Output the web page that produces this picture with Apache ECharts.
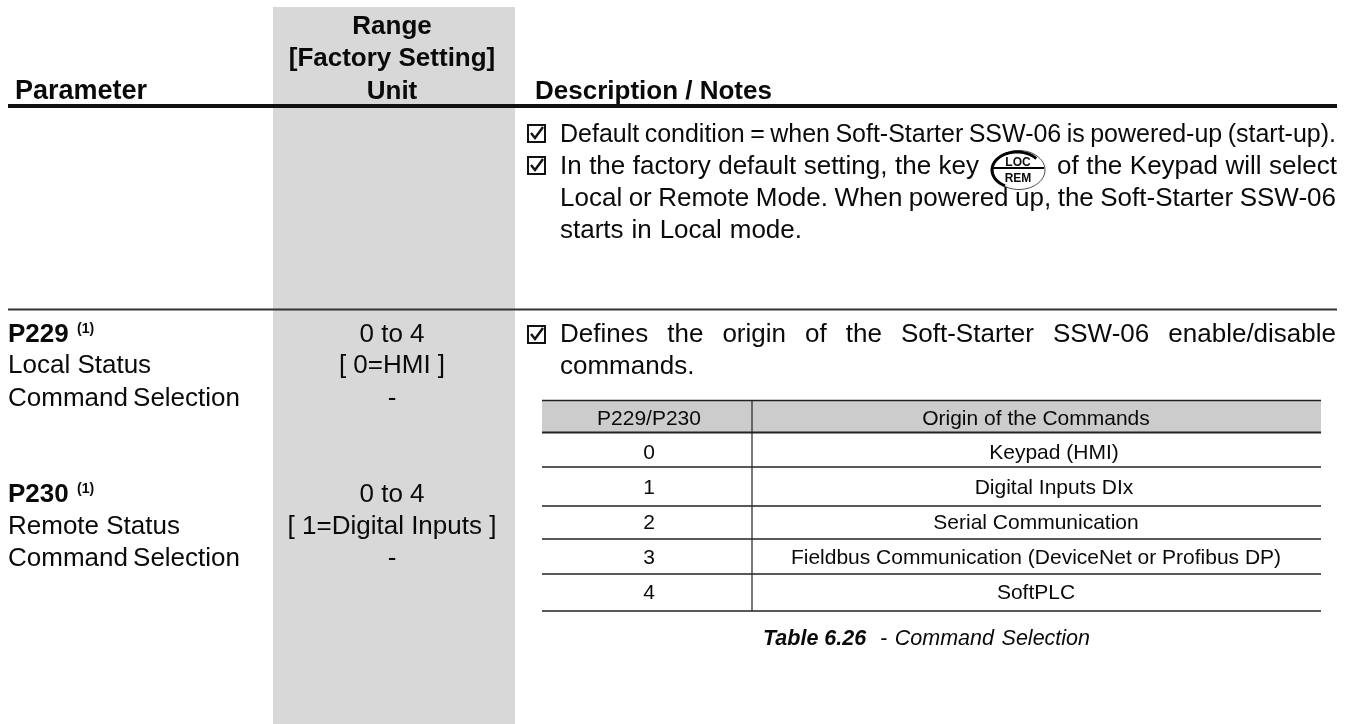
<!DOCTYPE html>
<html>
<head>
<meta charset="utf-8">
<title>Command Selection</title>
<script src="https://cdn.jsdelivr.net/npm/echarts@6/dist/echarts.min.js"></script>
<style>
html, body { margin: 0; padding: 0; background: #fff; }
#main { width: 1349px; height: 724px; }
</style>
</head>
<body>
<div id="main"></div>
<script>
// page text
var paramHeader = "Parameter";
var rangeHeader = ["Range", "[Factory Setting]", "Unit"];
var descHeader = "Description / Notes";
var notesTop = [
    "Default condition = when Soft-Starter SSW-06 is powered-up (start-up).",
    "In the factory default setting, the key",
    "of the Keypad will select",
    "Local or Remote Mode. When powered up, the Soft-Starter SSW-06",
    "starts in Local mode."
];
var notesBottom = ["Defines the origin of the Soft-Starter SSW-06 enable/disable", "commands."];
var p229Lines = ["P229", "Local Status", "Command Selection"];
var p230Lines = ["P230", "Remote Status", "Command Selection"];
var p229Range = ["0 to 4", "[ 0=HMI ]", "-"];
var p230Range = ["0 to 4", "[ 1=Digital Inputs ]", "-"];
var footnote = "(1)";
var tableHeader = ["P229/P230", "Origin of the Commands"];
var tableCodes = ["0", "1", "2", "3", "4"];
var tableOrigins = ["Keypad (HMI)", "Digital Inputs DIx", "Serial Communication", "Fieldbus Communication (DeviceNet or Profibus DP)", "SoftPLC"];
var keyLabels = ["LOC", "REM"];
var captionBold = "Table 6.26";
var captionRest = "- Command Selection";

var FAMILY = '"Liberation Sans", Arial, sans-serif';
var INK = "#0a0a0a";
var BODY = "26px " + FAMILY;
var BOLD = "bold 26px " + FAMILY;
var CELL = "21px " + FAMILY;

var els = [];
var ctx = document.createElement("canvas").getContext("2d");

// y is the baseline, zrender only knows top/middle/bottom so shift from the middle
function text(str, x, y, font, align) {
    var size = parseFloat(font.match(/([\d.]+)px/)[1]);
    els.push({
        type: "text", z: 5,
        style: { text: str, x: x, y: y - size * 0.28, font: font, fill: INK, align: align || "left", verticalAlign: "middle" }
    });
}
function rect(x, y, w, h, fill) {
    els.push({ type: "rect", z: 1, shape: { x: x, y: y, width: w, height: h }, style: { fill: fill } });
}
function hline(x1, x2, y, width, color) {
    els.push({
        type: "line", z: 3, shape: { x1: x1, y1: y, x2: x2, y2: y },
        style: { stroke: color || "#111", lineWidth: width }
    });
}
// word by word between two edges, the source page is justified
function justify(str, x1, x2, y, font) {
    var words = str.split(" ");
    ctx.font = font;
    var used = 0;
    words.forEach(function (w) { used += ctx.measureText(w).width; });
    var gap = (x2 - x1 - used) / (words.length - 1);
    var x = x1;
    words.forEach(function (w) {
        text(w, x, y, font);
        x += ctx.measureText(w).width + gap;
    });
}
function checkbox(x, y) {
    els.push({
        type: "rect", z: 4, shape: { x: x, y: y, width: 17, height: 17 },
        style: { fill: "none", stroke: "#111", lineWidth: 2 }
    });
    els.push({
        type: "polyline", z: 4, shape: { points: [[x + 3, y + 8], [x + 7, y + 13], [x + 15, y + 2]] },
        style: { fill: "none", stroke: "#111", lineWidth: 2.4 }
    });
}
function keyIcon(cx, cy) {
    var rx = 26, ry = 19.5;
    var thin = [], thick = [];
    var i, a;
    for (i = 0; i <= 60; i++) {
        a = i / 60 * Math.PI * 2;
        thin.push([cx + 1 + rx * Math.cos(a), cy + ry * Math.sin(a)]);
    }
    // heavy part of the outline, upper right round to lower left
    for (i = 0; i <= 40; i++) {
        a = (-0.22 - i / 40 * 1.12) * Math.PI;
        thick.push([cx - 1 + (rx - 1) * Math.cos(a), cy + (ry - 1.5) * Math.sin(a)]);
    }
    els.push({ type: "polyline", z: 6, shape: { points: thin }, style: { fill: "none", stroke: "#222", lineWidth: 0.8 } });
    els.push({ type: "polyline", z: 6, shape: { points: thick }, style: { fill: "none", stroke: "#000", lineWidth: 3 } });
    els.push({ type: "line", z: 6, shape: { x1: cx - 26, y1: cy - 2, x2: cx + 26, y2: cy - 2 }, style: { stroke: "#000", lineWidth: 2 } });
    var small = 'bold 12px "Liberation Sans Narrow", ' + FAMILY;
    text(keyLabels[0], cx, cy - 4, small, "center");
    text(keyLabels[1], cx, cy + 12, small, "center");
}

// grey range column
rect(273, 7, 242, 717, "#d8d8d8");

// page header
text(paramHeader, 15, 99, "bold 27px " + FAMILY);
text(rangeHeader[0], 392, 34, BOLD, "center");
text(rangeHeader[1], 392, 66, BOLD, "center");
text(rangeHeader[2], 392, 99, BOLD, "center");
text(descHeader, 535, 99, BOLD);
hline(8, 1337, 106, 4);
hline(8, 1337, 309.5, 2, "#333");

// upper notes
checkbox(528, 125);
checkbox(528, 157);
justify(notesTop[0], 560, 1336, 142, "25px " + FAMILY);
justify(notesTop[1], 560, 979, 174, BODY);
justify(notesTop[2], 1057, 1337, 174, BODY);
justify(notesTop[3], 560, 1336, 206, BODY);
justify(notesTop[4], 560, 802, 238, BODY);
keyIcon(1018, 170);

// parameter column
text(p229Lines[0], 8, 342, BOLD);
text(footnote, 77, 333, "bold 14px " + FAMILY);
text(p229Lines[1], 8, 373, BODY);
justify(p229Lines[2], 8, 240, 406, BODY);
text(p230Lines[0], 8, 502, BOLD);
text(footnote, 77, 493, "bold 14px " + FAMILY);
text(p230Lines[1], 8, 534, BODY);
justify(p230Lines[2], 8, 240, 566, BODY);

// range column
text(p229Range[0], 392, 342, BODY, "center");
text(p229Range[1], 392, 373, BODY, "center");
text(p229Range[2], 392, 406, BODY, "center");
text(p230Range[0], 392, 502, BODY, "center");
text(p230Range[1], 392, 534, BODY, "center");
text(p230Range[2], 392, 566, BODY, "center");

// lower note
checkbox(528, 326);
justify(notesBottom[0], 560, 1336, 342, BODY);
text(notesBottom[1], 560, 374, BODY);

// command table
rect(542, 401, 779, 31, "#cccccc");
[400.5, 432.5, 467, 506, 539, 574, 611].forEach(function (y, i) {
    hline(542, 1321, y, i === 1 ? 2 : 1.4, "#222");
});
els.push({ type: "line", z: 3, shape: { x1: 752, y1: 401, x2: 752, y2: 611 }, style: { stroke: "#222", lineWidth: 1.2 } });

text(tableHeader[0], 649, 425, CELL, "center");
text(tableHeader[1], 1036, 425, CELL, "center");
var cellBase = [459, 494, 529, 564, 599];
var originCenter = [1054, 1054, 1036, 1036, 1036];
tableCodes.forEach(function (c, i) {
    text(c, 649, cellBase[i], CELL, "center");
    text(tableOrigins[i], originCenter[i], cellBase[i], CELL, "center");
});

// caption
text(captionBold, 763, 645, "italic bold 21.5px " + FAMILY);
justify(captionRest, 880, 1090, 645, "italic 21.5px " + FAMILY);

var myChart = echarts.init(document.getElementById("main"), null, { renderer: "canvas" });
myChart.setOption({
    animation: false,
    backgroundColor: "#fff",
    graphic: { elements: els }
});
</script>
</body>
</html>
